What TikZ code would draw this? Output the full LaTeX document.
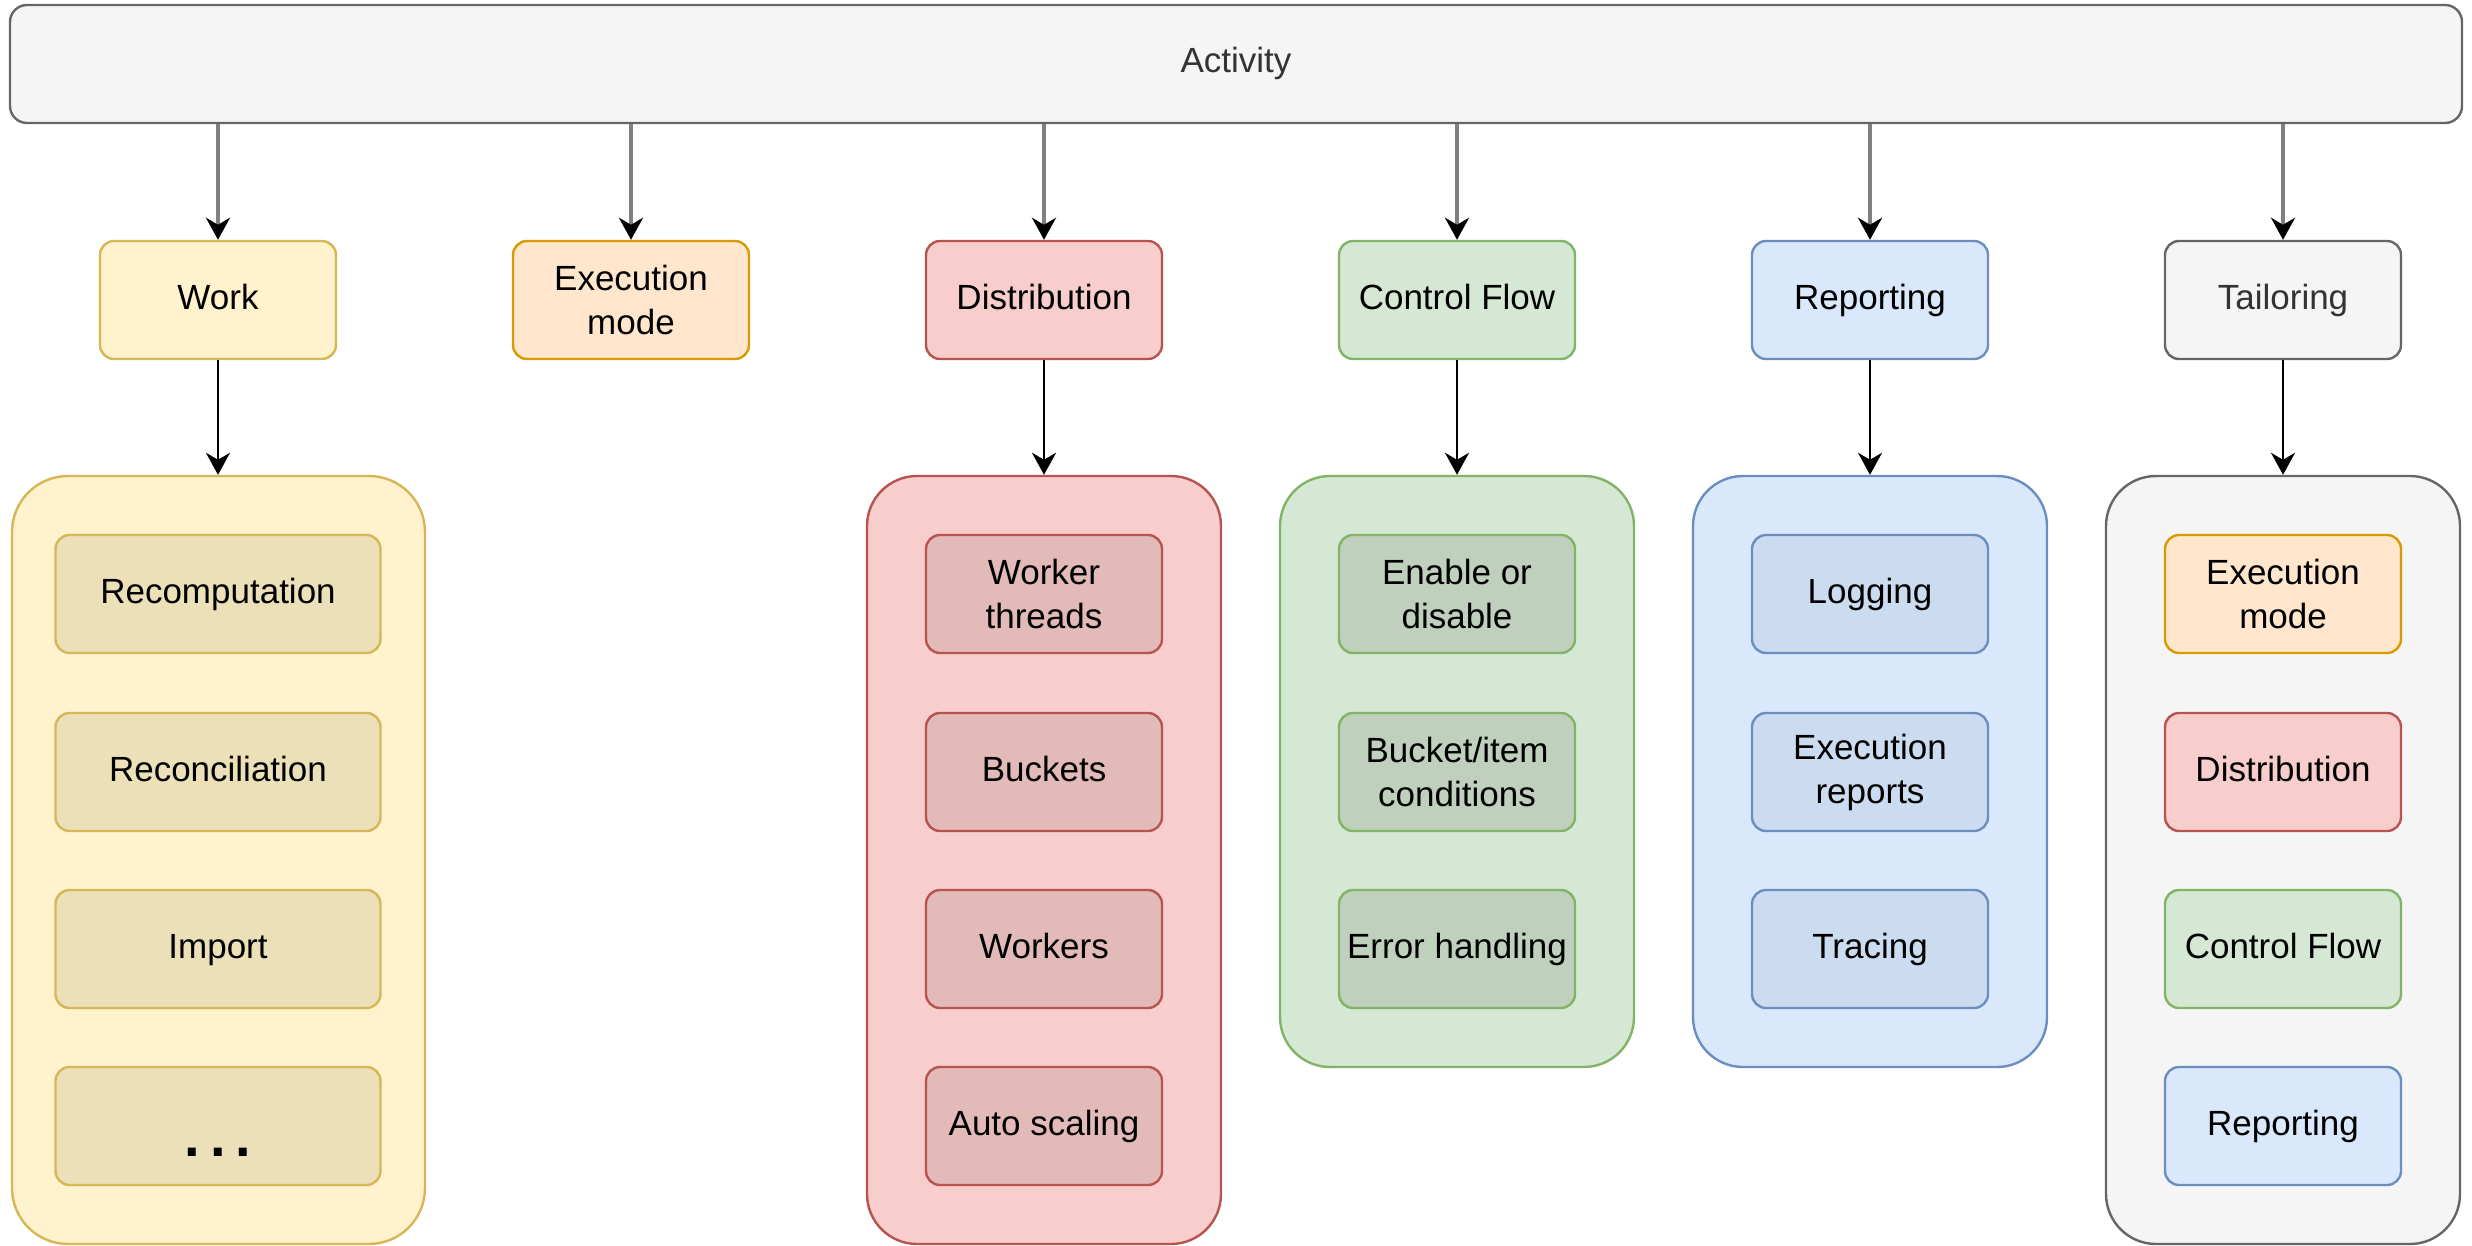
\documentclass[tikz,border=0pt]{standalone}
\usepackage{fontspec}
\setmainfont{Liberation Sans}
\usetikzlibrary{arrows.meta}
\definecolor{yfill}{HTML}{FFF2CC}\definecolor{ydraw}{HTML}{D6B656}\definecolor{yin}{HTML}{ECE0B9}
\definecolor{ofill}{HTML}{FFE6CC}\definecolor{odraw}{HTML}{D79B00}
\definecolor{rfill}{HTML}{F8CECC}\definecolor{rdraw}{HTML}{B85450}\definecolor{rin}{HTML}{E2BAB8}
\definecolor{gfill}{HTML}{D5E8D4}\definecolor{gdraw}{HTML}{82B366}\definecolor{gin}{HTML}{BFD0BD}
\definecolor{bfill}{HTML}{DAE8FC}\definecolor{bdraw}{HTML}{6C8EBF}\definecolor{bin}{HTML}{CCDCF0}
\definecolor{kfill}{HTML}{F5F5F5}\definecolor{kdraw}{HTML}{666666}\definecolor{ktext}{HTML}{333333}
\definecolor{arrgray}{HTML}{808080}
\tikzset{
  every node/.style={font=\fontsize{35}{44}\selectfont, align=center, inner sep=0pt, text height=26pt, text depth=8pt},
  two/.style={text height={}, text depth={}},
  box/.style={rectangle, rounded corners=14pt, line width=2.4pt, minimum width=236pt, minimum height=118pt},
  wbox/.style={box, minimum width=325pt},
  cont/.style={rectangle, rounded corners=50pt, line width=2.4pt},
  Y/.style={fill=yfill, draw=ydraw}, YI/.style={fill=yin, draw=ydraw},
  O/.style={fill=ofill, draw=odraw},
  R/.style={fill=rfill, draw=rdraw}, RI/.style={fill=rin, draw=rdraw},
  G/.style={fill=gfill, draw=gdraw}, GI/.style={fill=gin, draw=gdraw},
  B/.style={fill=bfill, draw=bdraw}, BI/.style={fill=bin, draw=bdraw},
  K/.style={fill=kfill, draw=kdraw, text=ktext},
  toparrow/.style={draw=arrgray, line width=4pt, -{Stealth[length=22pt,width=24pt,inset=7pt,color=black]}},
  subarrow/.style={draw=black, line width=2.6pt, -{Stealth[length=22pt,width=24pt,inset=7pt]}},
}
\begin{document}
\begin{tikzpicture}[x=1pt,y=-1pt]
\useasboundingbox (0,0) rectangle (2472,1246);
% top
\node[K, rectangle, rounded corners=17pt, line width=2.4pt, minimum width=2452pt, minimum height=118pt] (act) at (1236,64) {Activity};
% level 2
\node[box,Y] (work) at (218,300) {Work};
\node[box,O,two] (exec) at (631,300) {Execution\\mode};
\node[box,R] (dist) at (1044,300) {Distribution};
\node[box,G] (ctrl) at (1457,300) {Control Flow};
\node[box,B] (rep) at (1870,300) {Reporting};
\node[box,K] (tail) at (2283,300) {Tailoring};
% containers
\node[cont,Y, minimum width=413pt, minimum height=768pt, rounded corners=56pt] (cwork) at (218.5,860) {};
\node[cont,R, minimum width=354pt, minimum height=768pt] (cdist) at (1044,860) {};
\node[cont,G, minimum width=354pt, minimum height=591pt] (cctrl) at (1457,771.5) {};
\node[cont,B, minimum width=354pt, minimum height=591pt] (crep) at (1870,771.5) {};
\node[cont,K, minimum width=354pt, minimum height=768pt] (ctail) at (2283,860) {};
% work items
\node[wbox,YI] (w1) at (218,594) {Recomputation};
\node[wbox,YI] (w2) at (218,772) {Reconciliation};
\node[wbox,YI] (w3) at (218,949) {Import};
\node[wbox,YI, text height=60pt, text depth=0pt, font=\fontsize{56}{56}\selectfont\bfseries] (w4) at (218,1126) {.\kern10pt.\kern10pt.};
% distribution items
\node[box,RI,two] (d1) at (1044,594) {Worker\\threads};
\node[box,RI] (d2) at (1044,772) {Buckets};
\node[box,RI] (d3) at (1044,949) {Workers};
\node[box,RI] (d4) at (1044,1126) {Auto scaling};
% control flow items
\node[box,GI,two] (g1) at (1457,594) {Enable or\\disable};
\node[box,GI,two] (g2) at (1457,772) {Bucket/item\\conditions};
\node[box,GI] (g3) at (1457,949) {Error handling};
% reporting items
\node[box,BI] (b1) at (1870,594) {Logging};
\node[box,BI,two] (b2) at (1870,772) {Execution\\reports};
\node[box,BI] (b3) at (1870,949) {Tracing};
% tailoring items
\node[box,O,two] (t1) at (2283,594) {Execution\\mode};
\node[box,R] (t2) at (2283,772) {Distribution};
\node[box,G] (t3) at (2283,949) {Control Flow};
\node[box,B] (t4) at (2283,1126) {Reporting};
% arrows
\foreach \n in {work,exec,dist,ctrl,rep,tail}
  \draw[toparrow] (act.south -| \n.north) -- (\n.north);
\draw[subarrow] (work.south) -- (work.south |- cwork.north);
\draw[subarrow] (dist.south) -- (cdist.north);
\draw[subarrow] (ctrl.south) -- (cctrl.north);
\draw[subarrow] (rep.south) -- (crep.north);
\draw[subarrow] (tail.south) -- (ctail.north);
\end{tikzpicture}
\end{document}
